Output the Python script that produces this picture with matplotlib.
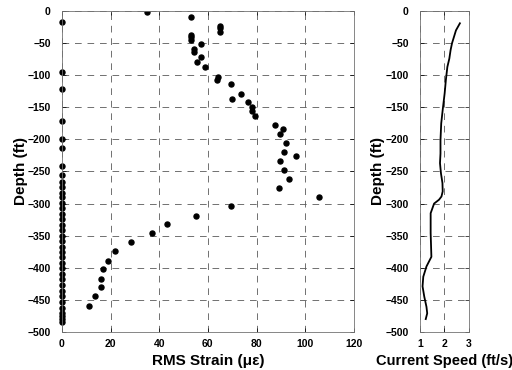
import matplotlib.pyplot as plt

# RMS strain vs depth (left panel)
strain = [35, 53, 65, 65, 65, 53, 53, 53, 57, 54.4, 54.4, 57, 55.5, 59,
          64.3, 63.6, 69.5, 73.8, 69.9, 76.7, 78, 78.2, 79.2,
          87.5, 90.7, 89.6, 92.3, 91.2, 96.2, 89.6, 91.2, 93.3, 89.3, 105.8,
          69.7, 55, 43.3, 36.9, 28.2, 21.9, 18.8, 16.9, 15.9, 15.9, 13.4, 11.2]
strain_depth = [-2, -9, -23, -27, -32, -37, -41, -45, -51, -59, -64, -72, -79, -87,
                -102, -107, -114, -129, -137, -142, -149, -156, -164,
                -178, -184, -192, -206, -220, -226, -234, -248, -262, -276, -290,
                -304, -319, -332, -346, -360, -374, -389, -402, -417, -430, -444, -459]

# gauges reading zero
zero_depth = [-17, -95, -122, -172, -199, -214, -241, -255, -266, -274, -283, -290,
              -299, -307, -316, -324, -333, -341, -350, -359, -367, -376, -383,
              -393, -401, -410, -418, -427, -436, -444, -453, -462, -470, -476,
              -480, -484]
zero_strain = [0] * len(zero_depth)

# current speed profile (right panel)
speed = [2.63, 2.47, 2.39, 2.31, 2.25, 2.20, 2.12, 2.06, 2.01, 1.93, 1.87, 1.84,
         1.84, 1.82, 1.86, 1.92, 1.93, 1.88, 1.78, 1.58, 1.44, 1.44, 1.47, 1.27,
         1.14, 1.11, 1.18, 1.27, 1.30, 1.24]
speed_depth = [-19, -30, -40, -50, -61, -74, -87, -107, -128, -154, -175, -201,
               -222, -237, -253, -268, -281, -289, -294, -300, -315, -346, -383, -398,
               -414, -429, -445, -461, -471, -480]

plt.rcParams['font.family'] = ['Liberation Sans', 'DejaVu Sans']
plt.rcParams['font.weight'] = 'bold'

fig = plt.figure(figsize=(5.12, 3.70), dpi=100)
ax1 = fig.add_axes([0.121, 0.103, 0.570, 0.867])
ax2 = fig.add_axes([0.820, 0.103, 0.096, 0.867])

ax1.plot(strain, strain_depth, 'o', color='black', markersize=3.6)
ax1.plot(zero_strain, zero_depth, 'o', color='black', markersize=3.6, clip_on=False)
ax1.set_xlim(0, 120)
ax1.set_xticks([0, 20, 40, 60, 80, 100, 120])
ax1.set_xlabel('RMS Strain (\u03bc\u03b5)', fontsize=11, fontweight='bold', labelpad=4)

ax2.plot(speed, speed_depth, '-', color='black', linewidth=1.3)
ax2.set_xlim(1, 3)
ax2.set_xticks([1, 2, 3])
ax2.set_xlabel('Current Speed (ft/s)', fontsize=10.5, fontweight='bold', labelpad=4)

for ax in (ax1, ax2):
    ax.set_ylim(-500, 0)
    ax.set_yticks(range(-500, 1, 50))
    ax.set_ylabel('Depth (ft)', fontsize=11, fontweight='bold', labelpad=0)
    ax.grid(True, linestyle=(0, (8, 7)), linewidth=0.6, color='0.35')
    ax.tick_params(direction='in', length=3, width=0.5, labelsize=7.5,
                   top=True, right=True)
    ax.tick_params(axis='x', pad=5)
    ax.tick_params(axis='y', pad=8)
    for lab in ax.get_xticklabels() + ax.get_yticklabels():
        lab.set_fontweight('bold')
    for s in ax.spines.values():
        s.set_linewidth(0.6)
        s.set_color('0.45')

plt.savefig('out.png', dpi=100)
